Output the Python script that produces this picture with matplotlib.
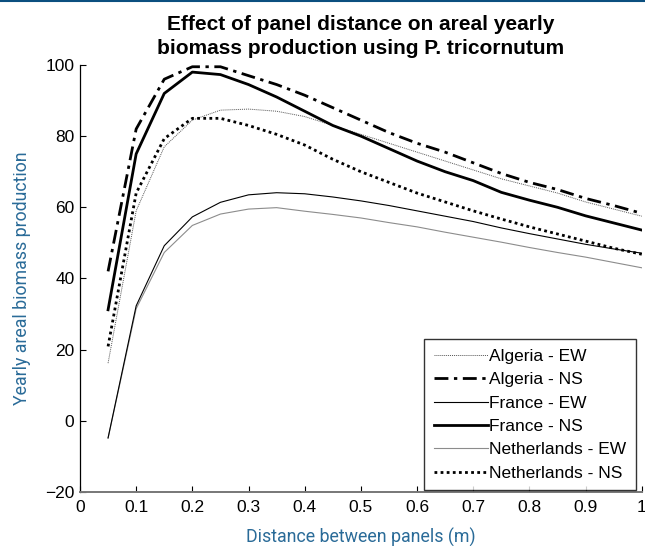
import numpy as np
import matplotlib
matplotlib.use('Agg')
import matplotlib.pyplot as plt
from matplotlib.lines import Line2D

# Panel spacing (m) and yearly areal biomass production per site / orientation
distance = [0.05, 0.10, 0.15, 0.20, 0.25, 0.30, 0.35, 0.40, 0.45, 0.50,
            0.55, 0.60, 0.65, 0.70, 0.75, 0.80, 0.85, 0.90, 0.95, 1.00]

algeria_ew = [16.2, 59.0, 77.0, 84.5, 87.3, 87.6, 87.0, 85.5, 83.0, 80.5,
              78.0, 75.5, 73.0, 70.5, 68.0, 66.0, 64.0, 61.5, 59.5, 57.5]
algeria_ns = [42.0, 82.0, 96.0, 99.5, 99.5, 97.0, 94.5, 91.5, 88.0, 84.5,
              81.0, 78.0, 75.5, 72.5, 69.5, 67.0, 65.0, 62.5, 60.5, 58.3]
france_ew = [-4.8, 32.3, 49.2, 57.3, 61.4, 63.5, 64.1, 63.8, 62.9, 61.8,
             60.5, 59.0, 57.5, 56.0, 54.2, 52.6, 51.1, 49.6, 48.3, 47.1]
france_ns = [31.2, 75.0, 92.0, 98.0, 97.3, 94.5, 91.0, 87.0, 83.0, 80.0,
             76.5, 73.0, 70.0, 67.5, 64.2, 62.0, 60.0, 57.6, 55.6, 53.6]
netherlands_ew = [-4.9, 31.5, 47.3, 54.9, 58.1, 59.5, 59.9, 58.9, 58.0, 57.0,
                  55.7, 54.5, 53.0, 51.6, 50.2, 48.7, 47.3, 46.0, 44.5, 43.0]
netherlands_ns = [20.9, 64.0, 79.3, 85.0, 85.0, 83.0, 80.5, 77.5, 73.5, 70.0,
                  67.0, 64.0, 61.5, 59.0, 56.7, 54.5, 52.5, 50.5, 48.5, 46.8]

series = [
    ('Algeria - EW', algeria_ew, dict(color='#555555', lw=0.7, ls=(0, (1, 1)), zorder=2)),
    ('Algeria - NS', algeria_ns, dict(color='black', lw=2.0, ls=(0, (5, 2, 1.2, 2)), zorder=2)),
    ('France - EW', france_ew, dict(color='black', lw=0.8, ls='-', zorder=3)),
    ('France - NS', france_ns, dict(color='black', lw=2.0, ls='-', zorder=2)),
    ('Netherlands - EW', netherlands_ew, dict(color='#8c8c8c', lw=0.8, ls='-', zorder=2)),
    ('Netherlands - NS', netherlands_ns, dict(color='black', lw=2.0, ls=(0, (1, 1.2)), zorder=2)),
]

plt.rcParams['font.family'] = ['Liberation Sans', 'DejaVu Sans']

fig = plt.figure(figsize=(6.45, 5.46), dpi=100)
ax = fig.add_axes([0.124, 0.099, 0.871, 0.782])

for label, values, style in series:
    ax.plot(distance, values, label=label, **style)

ax.set_xlim(0, 1)
ax.set_ylim(-20, 100)
ax.set_xticks(np.arange(0, 1.01, 0.1))
ax.set_xticklabels(['0', '0.1', '0.2', '0.3', '0.4', '0.5', '0.6', '0.7', '0.8', '0.9', '1'])
ax.set_yticks(range(-20, 101, 20))
ax.tick_params(direction='in', length=4, width=0.8, labelsize=12.5, colors='black')
ax.tick_params(axis='x', pad=6)
ax.tick_params(axis='y', pad=4)

ax.spines['top'].set_visible(False)
ax.spines['right'].set_visible(False)
ax.spines['left'].set_linewidth(0.9)
ax.spines['bottom'].set_color('#777777')
ax.spines['bottom'].set_linewidth(1.4)

label_color = '#2a6b98'
label_font = ['Roboto', 'DejaVu Sans']
ax.set_xlabel('Distance between panels (m)', fontsize=12.8, color=label_color,
              family=label_font, labelpad=9)
ax.set_ylabel('Yearly areal biomass production', fontsize=12.8, color=label_color,
              family=label_font, labelpad=10)

ax.set_title('Effect of panel distance on areal yearly\nbiomass production using P. tricornutum',
             fontsize=15, fontweight='bold', pad=8, linespacing=1.35)

leg = ax.legend(loc='lower right', bbox_to_anchor=(0.99, 0.004), fontsize=12.5,
                frameon=True, fancybox=False, edgecolor='black', handlelength=3.1,
                handletextpad=0.1, labelspacing=0.47, borderpad=0.55, borderaxespad=0)
leg.get_frame().set_linewidth(1.0)

# thin header rule along the top edge
fig.add_artist(Line2D([0, 1], [0.998, 0.998], color='#0b4f7f', lw=1.5,
                      transform=fig.transFigure))

fig.savefig('out.png', dpi=100)
